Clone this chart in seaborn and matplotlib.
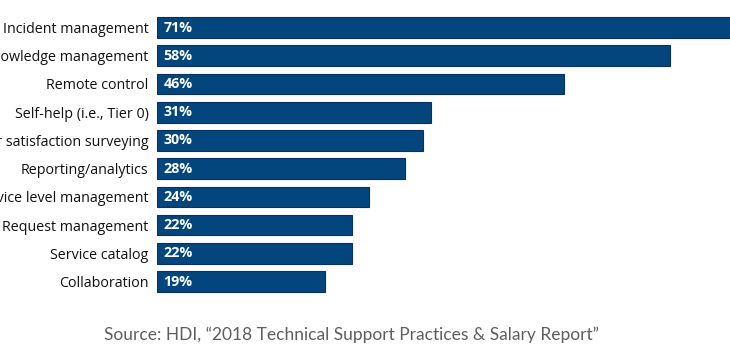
import matplotlib
matplotlib.use('Agg')
import matplotlib.pyplot as plt
import seaborn as sns

# dane
kategorie = [
    'Incident management', 'Knowledge management', 'Remote control',
    'Self-help (i.e., Tier 0)', 'Customer satisfaction surveying',
    'Reporting/analytics', 'Service level management', 'Request management',
    'Service catalog', 'Collaboration',
]
procenty = [71, 58, 46, 31, 30, 28, 24, 22, 22, 19]
zrodlo = 'Source: HDI, \u201c2018 Technical Support Practices & Salary Report\u201d'

KOLOR = '#03467d'

sns.set_style('white')
plt.rcParams['font.family'] = ['Open Sans', 'DejaVu Sans']

fig = plt.figure(figsize=(7.3, 3.62), dpi=100)
ax = fig.add_axes([157 / 730, 0.183, 573 / 730, 0.780])

sns.barplot(x=procenty, y=kategorie, orient='h', color=KOLOR,
            saturation=1, width=0.73, edgecolor='#0b2f63', linewidth=0.8,
            ax=ax)

ax.set_xlim(0, 573 / 8.85)
ax.set_ylim(9.5, -0.5)
ax.set(xlabel='', ylabel='', xticks=[])
sns.despine(ax=ax, left=True, bottom=True)
ax.tick_params(axis='y', length=0, pad=6, labelsize=10.3, labelcolor='#111111')

# etykiety procentowe wewnątrz słupków
for i, v in enumerate(procenty):
    ax.annotate(f'{v}%', xy=(0, i), xytext=(4.5, 0), textcoords='offset points',
                ha='left', va='center', color='white', fontsize=10.3,
                fontweight='bold')

fig.text(352 / 730, 1 - 335 / 362, zrodlo, ha='center', va='center',
         fontsize=12.5, color='#5e5e5e', family=['Lato', 'DejaVu Sans'])

fig.savefig('out.png', dpi=100)
